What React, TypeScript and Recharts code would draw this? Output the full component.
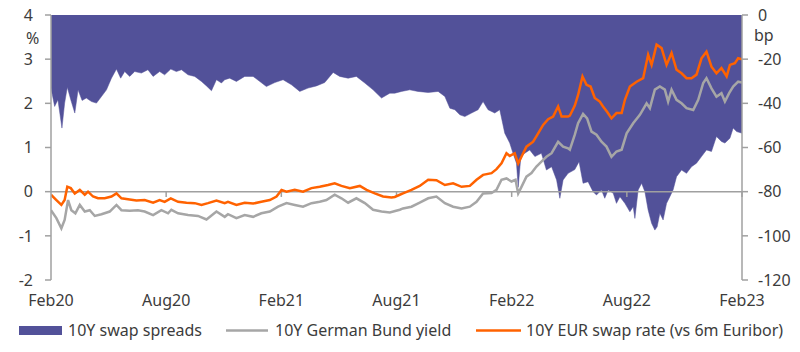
import React from 'react';
import { ComposedChart, Area, Line, XAxis, YAxis, ReferenceLine } from 'recharts';

// x = months since Feb 2020
const xTicks = [0, 6, 12, 18, 24, 30, 36];
const xTickLabels = ['Feb20', 'Aug20', 'Feb21', 'Aug21', 'Feb22', 'Aug22', 'Feb23'];
const leftTicks = [-2, -1, 0, 1, 2, 3, 4];
const rightTicks = [-120, -100, -80, -60, -40, -20, 0];

// 10Y swap spreads (bp, right axis)
const spreadT = [0, 0.19, 0.36, 0.57, 0.71, 0.85, 1.03, 1.24, 1.41, 1.62, 1.84, 2.11, 2.37, 2.63, 2.89, 3.15, 3.41, 3.63, 3.84, 4.10, 4.36, 4.71, 5.05, 5.32, 5.66, 5.92, 6.24, 6.53, 6.80, 7.14, 7.49, 7.84, 8.10, 8.36, 8.62, 8.88, 9.05, 9.31, 9.66, 10.09, 10.53, 10.88, 11.22, 11.66, 12.09, 12.53, 12.96, 13.39, 13.83, 14.26, 14.70, 15.04, 15.48, 15.91, 16.35, 16.78, 17.22, 17.65, 17.91, 18.26, 18.69, 19.12, 19.65, 20.17, 20.52, 20.78, 21.04, 21.30, 21.56, 21.91, 22.25, 22.51, 22.77, 23.12, 23.38, 23.64, 23.90, 24.07, 24.25, 24.34, 24.48, 24.68, 24.94, 25.21, 25.55, 25.81, 26.08, 26.34, 26.51, 26.68, 26.94, 27.29, 27.51, 27.72, 27.98, 28.24, 28.42, 28.68, 28.85, 29.03, 29.29, 29.46, 29.64, 29.90, 30.16, 30.33, 30.42, 30.59, 30.77, 30.94, 31.11, 31.29, 31.46, 31.58, 31.72, 31.89, 32.07, 32.24, 32.41, 32.59, 32.85, 33.11, 33.37, 33.63, 33.89, 34.15, 34.41, 34.67, 34.93, 35.11, 35.37, 35.54, 35.72, 36];
const spreadBp = [-33.1, -41.4, -38.4, -51.2, -39.9, -32.7, -38.4, -44.4, -33.9, -38.7, -37.6, -39.2, -39.9, -36.9, -33.9, -28.6, -24.5, -28.6, -25.6, -27.8, -25.6, -26.3, -24.8, -27.8, -25.6, -27.1, -24.5, -25.6, -24.8, -27.1, -27.8, -30.1, -32.1, -34.3, -29.3, -30.8, -29.3, -28.6, -30.1, -27.8, -27.8, -30.1, -32.4, -30.6, -29.3, -31.6, -34.6, -33.1, -32.1, -30.6, -26.0, -27.8, -28.6, -27.8, -30.8, -33.9, -37.6, -35.4, -35.4, -34.6, -33.9, -34.6, -35.1, -34.6, -36.9, -42.2, -42.9, -45.2, -46.0, -44.4, -42.9, -39.2, -42.9, -44.4, -42.9, -53.5, -58.0, -62.6, -67.1, -78.0, -64.1, -62.6, -61.1, -64.1, -62.6, -70.2, -68.7, -74.7, -83.0, -74.7, -71.7, -70.0, -66.4, -76.2, -75.5, -80.0, -81.5, -79.2, -83.0, -79.2, -80.7, -85.3, -82.3, -85.3, -89.1, -86.8, -92.1, -79.2, -76.2, -80.0, -88.3, -94.3, -97.4, -95.9, -89.8, -92.8, -85.3, -82.3, -79.2, -73.2, -70.2, -71.7, -68.7, -67.1, -64.1, -61.1, -61.8, -55.0, -57.3, -58.0, -55.8, -51.2, -52.8, -53.5];

// 10Y German Bund yield (%, left axis)
const bundT = [0, 0.28, 0.54, 0.71, 0.89, 1.06, 1.27, 1.50, 1.76, 2.02, 2.28, 2.63, 3.06, 3.41, 3.67, 4.10, 4.53, 4.88, 5.32, 5.75, 6.10, 6.27, 6.62, 7.14, 7.66, 8.10, 8.62, 9.05, 9.22, 9.66, 10.09, 10.53, 10.96, 11.40, 11.83, 12.27, 12.70, 13.13, 13.57, 14.00, 14.35, 14.78, 15.13, 15.48, 15.91, 16.35, 16.78, 17.22, 17.65, 18.17, 18.34, 18.78, 19.21, 19.65, 20.08, 20.52, 20.95, 21.39, 21.82, 22.17, 22.51, 22.95, 23.21, 23.47, 23.73, 23.99, 24.20, 24.34, 24.48, 24.77, 25.03, 25.29, 25.55, 25.81, 26.08, 26.42, 26.68, 26.94, 27.03, 27.29, 27.46, 27.72, 27.93, 28.16, 28.42, 28.68, 28.94, 29.20, 29.46, 29.73, 29.99, 30.33, 30.68, 31.03, 31.20, 31.46, 31.72, 31.98, 32.15, 32.33, 32.59, 32.85, 33.11, 33.46, 33.72, 33.98, 34.15, 34.41, 34.67, 34.93, 35.11, 35.33, 35.54, 35.80, 36];
const bundPct = [-0.42, -0.60, -0.83, -0.64, -0.19, -0.42, -0.49, -0.30, -0.45, -0.42, -0.55, -0.51, -0.45, -0.30, -0.42, -0.43, -0.42, -0.45, -0.53, -0.42, -0.49, -0.41, -0.49, -0.53, -0.55, -0.63, -0.45, -0.57, -0.51, -0.60, -0.53, -0.57, -0.49, -0.45, -0.34, -0.26, -0.30, -0.34, -0.26, -0.23, -0.19, -0.07, -0.15, -0.25, -0.15, -0.26, -0.41, -0.45, -0.47, -0.41, -0.38, -0.34, -0.25, -0.15, -0.11, -0.26, -0.34, -0.38, -0.34, -0.23, -0.04, -0.03, 0.04, 0.27, 0.30, 0.23, 0.27, -0.04, 0.08, 0.34, 0.42, 0.57, 0.68, 0.79, 0.87, 1.13, 1.02, 0.98, 0.95, 1.29, 1.55, 1.76, 1.66, 1.36, 1.29, 1.13, 1.02, 0.79, 0.91, 0.95, 1.32, 1.55, 1.74, 2.00, 1.89, 2.31, 2.38, 2.31, 2.04, 2.31, 2.08, 2.00, 1.89, 1.85, 2.08, 2.46, 2.57, 2.34, 2.15, 2.23, 2.04, 2.23, 2.38, 2.49, 2.47];

// 10Y EUR swap rate vs 6m Euribor (%, left axis)
const swapT = [0, 0.28, 0.54, 0.71, 0.85, 1.03, 1.24, 1.50, 1.76, 1.93, 2.19, 2.45, 2.80, 3.15, 3.41, 3.67, 4.01, 4.45, 4.88, 5.32, 5.66, 5.92, 6.24, 6.62, 7.06, 7.49, 7.84, 8.18, 8.62, 9.05, 9.22, 9.66, 10.09, 10.53, 10.96, 11.40, 11.75, 12.01, 12.27, 12.70, 13.13, 13.57, 14.00, 14.43, 14.78, 15.13, 15.57, 16.09, 16.44, 16.87, 17.30, 17.74, 17.91, 18.17, 18.34, 18.78, 19.21, 19.65, 20.08, 20.52, 20.95, 21.39, 21.82, 22.17, 22.51, 22.95, 23.21, 23.47, 23.73, 23.90, 24.16, 24.34, 24.51, 24.77, 25.12, 25.38, 25.64, 25.90, 26.16, 26.42, 26.60, 26.94, 27.03, 27.29, 27.46, 27.69, 27.90, 28.11, 28.33, 28.59, 28.76, 28.97, 29.20, 29.46, 29.73, 29.90, 30.16, 30.51, 30.85, 31.11, 31.29, 31.55, 31.81, 32.07, 32.33, 32.59, 32.85, 33.11, 33.37, 33.63, 33.89, 34.15, 34.41, 34.67, 34.93, 35.20, 35.37, 35.63, 35.80, 36];
const swapPct = [-0.07, -0.19, -0.30, -0.19, 0.11, 0.08, -0.04, 0.04, -0.07, 0.00, -0.11, -0.15, -0.15, -0.11, -0.04, -0.15, -0.17, -0.20, -0.19, -0.25, -0.19, -0.23, -0.15, -0.23, -0.25, -0.26, -0.30, -0.26, -0.20, -0.26, -0.23, -0.30, -0.25, -0.27, -0.23, -0.19, -0.11, 0.04, 0.00, 0.04, 0.00, 0.08, 0.11, 0.15, 0.19, 0.13, 0.08, 0.13, 0.04, -0.04, -0.11, -0.13, -0.12, -0.07, -0.04, 0.04, 0.13, 0.27, 0.26, 0.15, 0.19, 0.11, 0.13, 0.27, 0.38, 0.42, 0.51, 0.64, 0.87, 0.81, 0.87, 0.64, 0.79, 1.02, 1.13, 1.32, 1.51, 1.64, 1.70, 1.93, 1.70, 1.70, 1.72, 1.95, 2.19, 2.61, 2.42, 2.38, 2.12, 2.04, 1.93, 1.81, 1.66, 1.78, 1.78, 2.08, 2.38, 2.49, 2.57, 3.10, 2.87, 3.33, 3.25, 2.87, 3.14, 2.76, 2.68, 2.57, 2.57, 2.65, 3.02, 3.17, 2.83, 2.68, 2.80, 2.61, 2.87, 2.91, 3.02, 3.00];

const spreadData = spreadT.map((t, i) => ({ t, spread: spreadBp[i] }));
const bundData = bundT.map((t, i) => ({ t, bund: bundPct[i] }));
const swapData = swapT.map((t, i) => ({ t, swap: swapPct[i] }));

const PURPLE = '#525199';
const ORANGE = '#FF6200';
const GREY = '#A6A6A6';
const AXIS = '#A0A0A0';
const TEXT = '#3c3c3c';
const FONT = '"Noto Sans", sans-serif';

export default function App() {
  const tickStyle = { fontSize: 16, fill: TEXT, fontFamily: FONT };
  return (
    <div style={{ position: 'fixed', left: 0, top: 0, width: 800, height: 352, background: '#fff', fontFamily: FONT }}>
      <ComposedChart width={800} height={352} margin={{ top: 15, right: 0, bottom: 42, left: 0 }}>
        <XAxis
          type="number"
          dataKey="t"
          domain={[0, 36]}
          ticks={xTicks}
          tickFormatter={(v: number) => xTickLabels[xTicks.indexOf(v)] ?? ''}
          axisLine={false}
          tickLine={false}
          tickSize={6}
          tickMargin={9}
          height={30}
          tick={tickStyle}
          allowDataOverflow
        />
        <YAxis
          yAxisId="left"
          domain={[-2, 4]}
          ticks={leftTicks}
          width={51}
          tickSize={6}
          tickMargin={12}
          axisLine={{ stroke: AXIS, strokeWidth: 1.5 }}
          tickLine={{ stroke: AXIS, strokeWidth: 1.5 }}
          tick={tickStyle}
          allowDataOverflow
        />
        <YAxis
          yAxisId="right"
          orientation="right"
          domain={[-120, 0]}
          ticks={rightTicks}
          width={58}
          tickSize={6}
          tickMargin={10}
          axisLine={{ stroke: AXIS, strokeWidth: 1.5 }}
          tickLine={{ stroke: AXIS, strokeWidth: 1.5 }}
          tick={{ ...tickStyle, textAnchor: 'start' }}
          allowDataOverflow
        />
        <Area
          yAxisId="right"
          data={spreadData}
          dataKey="spread"
          type="linear"
          baseValue={0}
          fill={PURPLE}
          fillOpacity={1}
          stroke={PURPLE}
          strokeWidth={0.5}
          isAnimationActive={false}
          dot={false}
          activeDot={false}
        />
        <ReferenceLine yAxisId="left" y={0} stroke={AXIS} strokeWidth={1.5} />
        {xTicks.slice(1).map((t) => (
          <ReferenceLine
            key={t}
            yAxisId="left"
            segment={[{ x: t, y: 0 }, { x: t, y: -0.12 }]}
            stroke={AXIS}
            strokeWidth={1.5}
          />
        ))}
        <Line
          yAxisId="left"
          data={bundData}
          dataKey="bund"
          type="linear"
          stroke={GREY}
          strokeWidth={2.5}
          dot={false}
          activeDot={false}
          isAnimationActive={false}
        />
        <Line
          yAxisId="left"
          data={swapData}
          dataKey="swap"
          type="linear"
          stroke={ORANGE}
          strokeWidth={2.5}
          dot={false}
          activeDot={false}
          isAnimationActive={false}
        />
      </ComposedChart>
      <svg width={800} height={352} style={{ position: 'absolute', left: 0, top: 0, pointerEvents: 'none' }}>
        <text x={26} y={44} fontSize={16} fill={TEXT} fontFamily={FONT}>%</text>
        <text x={754} y={41} fontSize={16} fill={TEXT} fontFamily={FONT}>bp</text>
        <rect x={19} y={326} width={43} height={9} fill={PURPLE} />
        <text x={68} y={336} fontSize={16} fill={TEXT} fontFamily={FONT}>10Y swap spreads</text>
        <line x1={226} y1={330.5} x2={268} y2={330.5} stroke={GREY} strokeWidth={2.5} />
        <text x={275} y={336} fontSize={16} fill={TEXT} fontFamily={FONT}>10Y German Bund yield</text>
        <line x1={476} y1={330.5} x2={521} y2={330.5} stroke={ORANGE} strokeWidth={2.5} />
        <text x={526} y={336} fontSize={16} fill={TEXT} fontFamily={FONT}>10Y EUR swap rate (vs 6m Euribor)</text>
      </svg>
    </div>
  );
}
